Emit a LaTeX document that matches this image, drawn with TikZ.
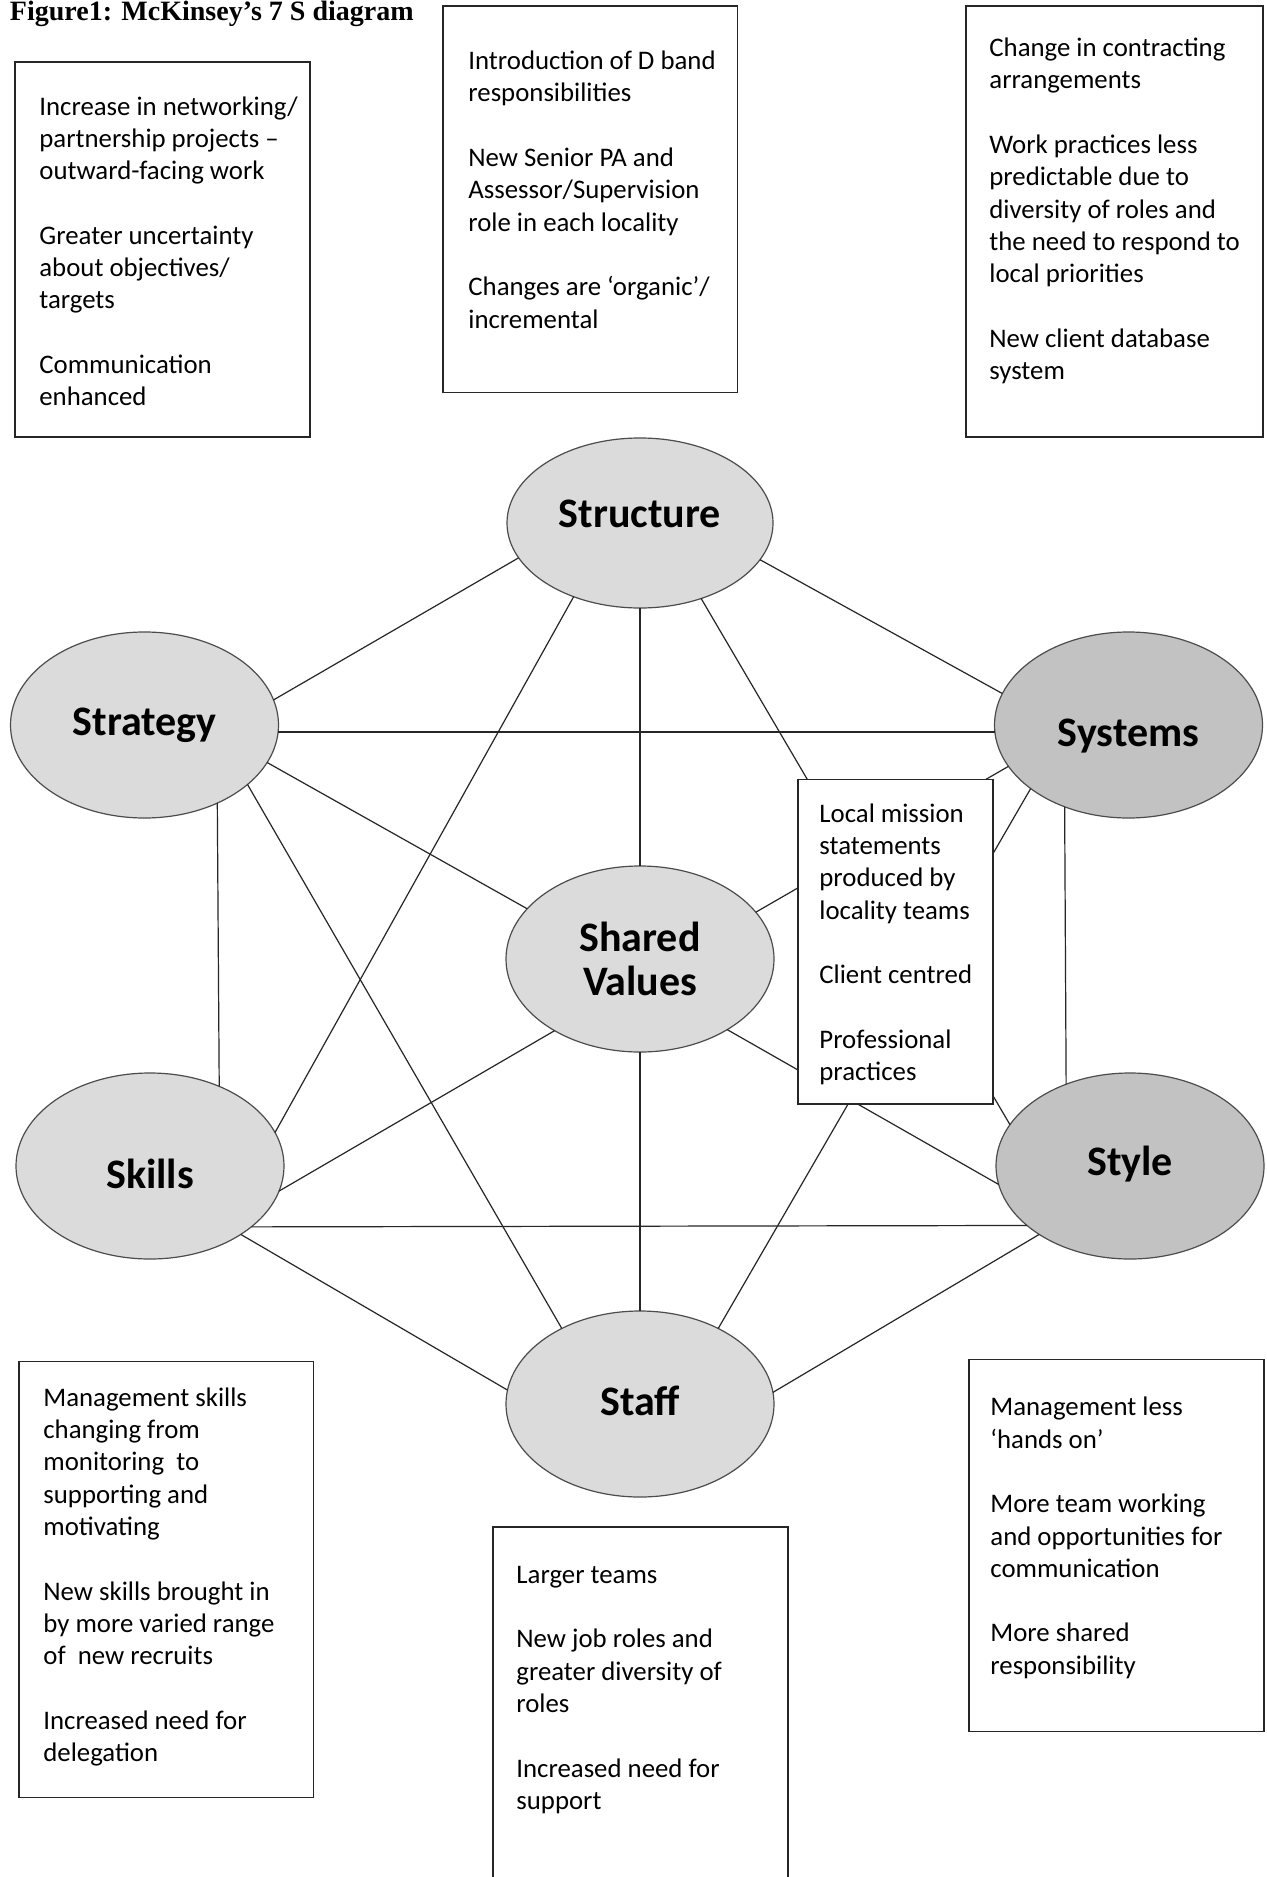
\documentclass[tikz,border=0pt]{standalone}
\usepackage{fontspec}
\setmainfont{Carlito}
\newfontfamily\titlefont[Ligatures=TeX]{Liberation Serif}
\usetikzlibrary{shapes.geometric}
\newcommand\lift[2]{\raisebox{#1}[\height][\depth]{#2}}
\begin{document}
\begin{tikzpicture}[x=0.5pt,y=-0.5pt,
  sball/.style={ellipse, draw=black!70, line width=0.6pt, fill=black!14,
    minimum width=134pt, minimum height=93pt, inner sep=0pt, outer sep=0pt,
    font=\fontsize{21}{22}\selectfont\bfseries, align=center},
  darkball/.style={sball, fill=black!24},
  conn/.style={line width=0.6pt, draw=black!85},
  frame/.style={rectangle, draw=black!85, line width=0.7pt, inner sep=0pt, outer sep=0pt},
  boxtext/.style={anchor=north west, inner sep=0pt, align=left,
    font=\fontsize{13.4}{16.15}\selectfont},
]
\fill[white] (0,0) rectangle (1266,1877);
\useasboundingbox (0,0) rectangle (1266,1877);

% title
\node[anchor=base west, inner sep=0pt, font=\titlefont\fontsize{14}{16}\selectfont\bfseries] (title) at (9.6,21) {Figure1: McKinsey’s 7 S diagram};

% the seven S
\node[sball, minimum height=85pt, minimum width=133pt] (str) at (640,523) {\lift{4.5pt}{Structure}};
\node[sball] (stg) at (144.5,725) {Strategy};
\node[darkball] (sys) at (1128.5,725) {\lift{-5.5pt}{Systems}};
\node[sball] (sv) at (640,959) {Shared\\Values};
\node[sball] (skl) at (150,1166) {\lift{-4pt}{Skills}};
\node[darkball] (sty) at (1130,1166) {\lift{1.2pt}{Style}};
\node[sball] (stf) at (640,1404) {\lift{1.8pt}{Staff}};

% connectors
\draw[conn] (str.196.7) -- (stg.11.1);
\draw[conn] (str.343.8) -- (sys.166.6);
\draw[conn] (str.south) -- (sv.north);
\draw[conn] (str.228.1) -- (skl.15.9);
\draw[conn] (str.309.8) -- (sty.161);
\draw[conn] (stg.-3.4) -- (sys.183.4);
\draw[conn] (stg.343.3) -- (sv.156.8);
\draw[conn] (stg.330.3) -- (stf.136.2);
\draw[conn] (stg.313.9) -- (skl.49.1);
\draw[conn] (sys.199) -- (sv.22.2);
\draw[conn] (sys.213) -- (stf.44);
\draw[conn] (sys.232.4) -- (sty.128.5);
\draw[conn] (sv.220.8) -- (skl.349.3);
\draw[conn] (sv.321.3) -- (sty.188.5);
\draw[conn] (sv.south) -- (stf.north);
\draw[conn] (skl.329.6) -- (sty.210.4);
\draw[conn] (skl.323.2) -- (stf.174);
\draw[conn] (sty.217.6) -- (stf.5.7);

% boxes
\node[frame, minimum width=147.5pt, minimum height=187.5pt] (tlbox) at (162.5,249.5) {};
\node[boxtext] (tltext) at (39,92.1) {\strut Increase in networking/\\partnership projects --\\outward-facing work\\[16.15pt]Greater uncertainty\\about objectives/\\targets\\[16.15pt]Communication\\enhanced};

\node[frame, minimum width=147.2pt, minimum height=193.25pt] (tmbox) at (590,199.25) {};
\node[boxtext] (tmtext) at (468,46.6) {\strut Introduction of D band\\responsibilities\\[16.15pt]New Senior PA and\\Assessor/Supervision\\role in each locality\\[16.15pt]Changes are `organic'/\\incremental};

\node[frame, minimum width=148.5pt, minimum height=215.5pt] (trbox) at (1114.5,221.5) {};
\node[boxtext] (trtext) at (989,33.5) {\strut Change in contracting\\arrangements\\[16.15pt]Work practices less\\predictable due to\\diversity of roles and\\the need to respond to\\local priorities\\[16.15pt]New client database\\system};

\node[frame, fill=white, minimum width=97.5pt, minimum height=162.25pt] (svbox) at (895.5,941.75) {};
\node[boxtext] (svtext) at (819,799.3) {\strut Local mission\\statements\\produced by\\locality teams\\[16.15pt]Client centred\\[16.15pt]Professional\\practices};

\node[frame, minimum width=147.2pt, minimum height=217.8pt] (blbox) at (166.3,1579.5) {};
\node[boxtext] (bltext) at (43,1383.2) {\strut Management skills\\changing from\\monitoring\ \ to\\supporting and\\motivating\\[16.15pt]New skills brought in\\by more varied range\\of\ \ new recruits\\[16.15pt]Increased need for\\delegation};

\draw[draw=black!85, line width=0.7pt] (493,1877) |- (788,1527) -- (788,1877);
\node[boxtext] (bmtext) at (516,1560.3) {\strut Larger teams\\[16.15pt]New job roles and\\greater diversity of\\roles\\[16.15pt]Increased need for\\support};

\node[frame, minimum width=147.5pt, minimum height=186.1pt] (brbox) at (1116.5,1545.4) {};
\node[boxtext] (brtext) at (990,1392.8) {\strut Management less\\`hands on'\\[16.15pt]More team working\\and opportunities for\\communication\\[16.15pt]More shared\\responsibility};
\end{tikzpicture}
\end{document}
